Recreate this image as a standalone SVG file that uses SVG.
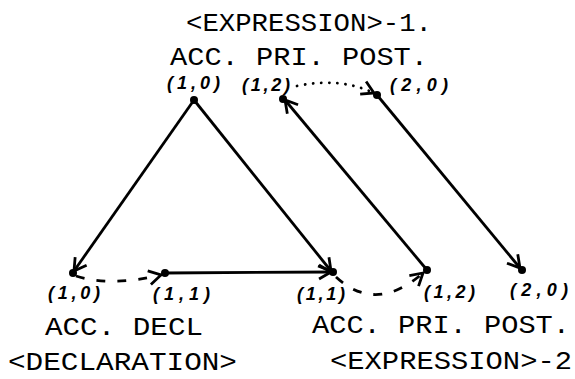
<svg xmlns="http://www.w3.org/2000/svg" width="575" height="379" viewBox="0 0 575 379">
<style>
.t{font-family:"Liberation Mono","DejaVu Sans Mono",monospace;font-size:26px;fill:#000}
.c{font-family:"Liberation Sans",Arial,sans-serif;font-weight:bold;font-style:italic;font-size:18px;fill:#000}
.e{fill:none;stroke:#000;stroke-width:2.8}
.d{fill:none;stroke:#000;stroke-width:2.8;stroke-dasharray:9 12}
.o{fill:none;stroke:#000;stroke-width:2.8;stroke-linecap:round;stroke-dasharray:0.1 8}
.n{fill:#000}
</style>
<defs>
<marker id="ah" markerUnits="userSpaceOnUse" markerWidth="20" markerHeight="20" viewBox="-16 -10 20 20" refX="0" refY="0" orient="auto">
<path d="M -12 -7 L 0 0 L -12 7" fill="none" stroke="#000" stroke-width="2.8"/>
</marker>
</defs>
<g id="titles">
<text class="t" x="186" y="31" textLength="246" lengthAdjust="spacingAndGlyphs">&lt;EXPRESSION&gt;-1.</text>
<text class="t" x="170" y="65" textLength="258" lengthAdjust="spacingAndGlyphs">ACC. PRI. POST.</text>
<text class="t" x="45" y="335" textLength="158" lengthAdjust="spacingAndGlyphs">ACC. DECL</text>
<text class="t" x="8" y="370" textLength="229" lengthAdjust="spacingAndGlyphs">&lt;DECLARATION&gt;</text>
<text class="t" x="312" y="333" textLength="258" lengthAdjust="spacingAndGlyphs">ACC. PRI. POST.</text>
<text class="t" x="330" y="369" textLength="242" lengthAdjust="spacingAndGlyphs">&lt;EXPRESSION&gt;-2</text>
</g>
<g id="connectors">
<line class="e" x1="194" y1="100" x2="74" y2="271" marker-end="url(#ah)"/>
<line class="e" x1="194" y1="100" x2="331" y2="271" marker-end="url(#ah)"/>
<line class="e" x1="165" y1="273" x2="331" y2="272" marker-end="url(#ah)"/>
<line class="e" x1="427" y1="270" x2="285" y2="100" marker-end="url(#ah)"/>
<line class="e" x1="377" y1="95" x2="520" y2="268" marker-end="url(#ah)"/>
<path class="d" d="M 76 276 Q 110 287 161 275" marker-end="url(#ah)"/>
<path class="d" d="M 336 277 Q 376 314 423 273" marker-end="url(#ah)"/>
<path class="o" d="M 297 86 Q 340 77 374 93" marker-end="url(#ah)"/>
</g>
<g id="n-top-10"><circle class="n" cx="194" cy="100" r="4"/><text class="c" x="167" y="89" textLength="53">(1,0)</text></g>
<g id="n-top-12"><circle class="n" cx="283" cy="99" r="4"/><text class="c" x="242" y="91" textLength="48">(1,2)</text></g>
<g id="n-top-20"><circle class="n" cx="377" cy="95" r="4"/><text class="c" x="390" y="91" textLength="58">(2,0)</text></g>
<g id="n-decl-10"><circle class="n" cx="73" cy="273" r="4"/><text class="c" x="48" y="299" textLength="52">(1,0)</text></g>
<g id="n-decl-11"><circle class="n" cx="165" cy="273" r="4"/><text class="c" x="153" y="300" textLength="57">(1,1)</text></g>
<g id="n-exp2-11"><circle class="n" cx="333" cy="272" r="4"/><text class="c" x="297" y="300" textLength="48">(1,1)</text></g>
<g id="n-exp2-12"><circle class="n" cx="427" cy="270" r="4"/><text class="c" x="424" y="298" textLength="51">(1,2)</text></g>
<g id="n-exp2-20"><circle class="n" cx="522" cy="270" r="4"/><text class="c" x="510" y="296" textLength="58">(2,0)</text></g>
</svg>
